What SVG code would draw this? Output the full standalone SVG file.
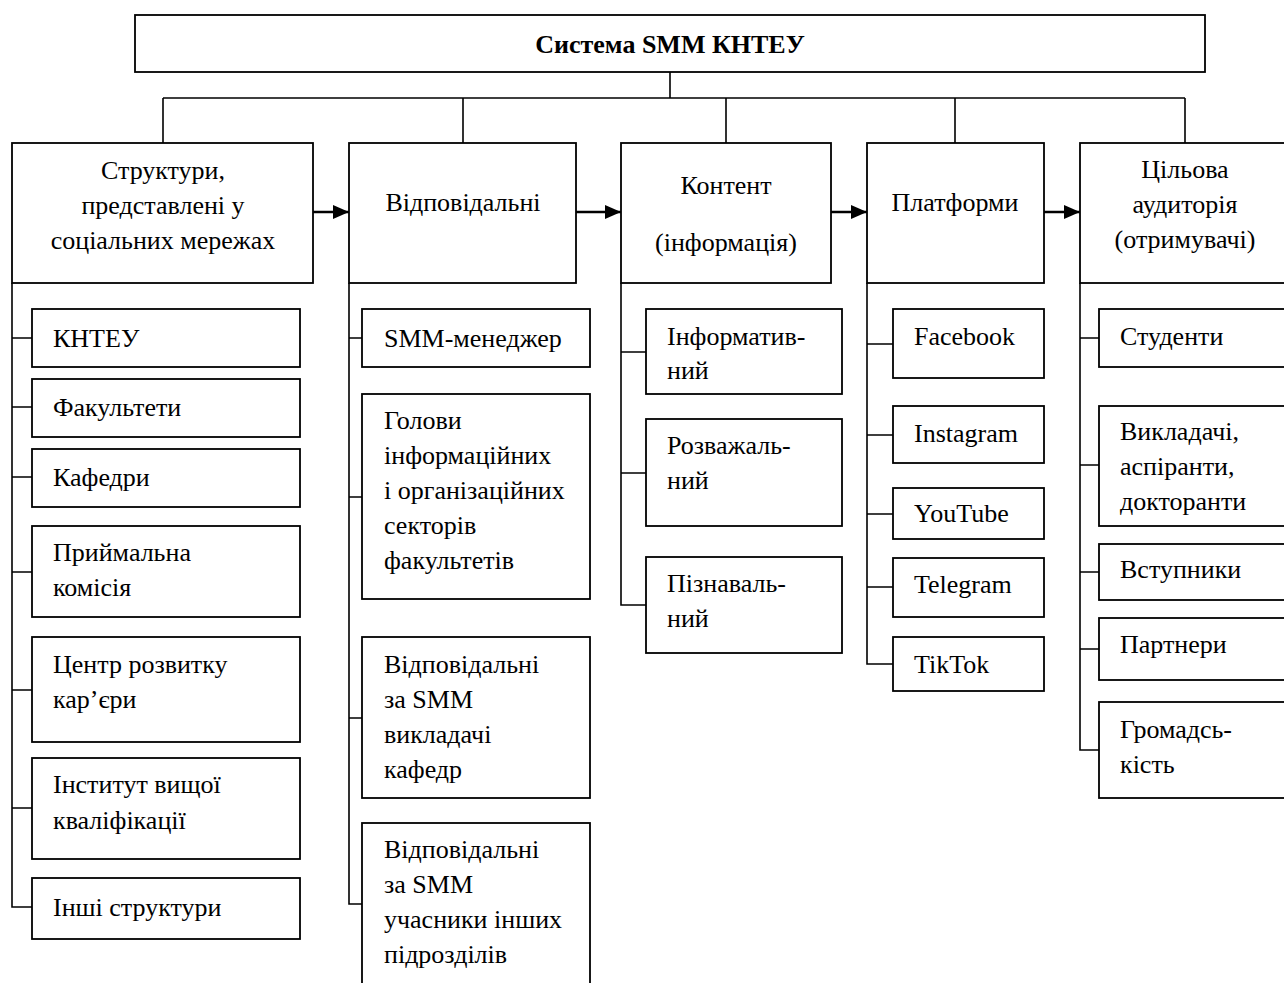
<svg xmlns="http://www.w3.org/2000/svg" width="1284" height="983" viewBox="0 0 1284 983">
<defs>
<style>
.box{fill:#fff;stroke:#000;stroke-width:1.8}
.ln{fill:none;stroke:#000;stroke-width:1.6}
.ar{fill:none;stroke:#000;stroke-width:2.6}
text{font-family:"Liberation Serif","Times New Roman",serif;font-size:26px;fill:#000}
.c{text-anchor:middle}
.t{font-weight:bold;font-size:26px}
</style>
<marker id="ah" viewBox="0 0 16 14" refX="16" refY="7" markerWidth="16" markerHeight="14" markerUnits="userSpaceOnUse" orient="auto">
<path d="M0,0 L16,7 L0,14 Z" fill="#000"/>
</marker>
</defs>
<rect width="1284" height="983" fill="#fff"/>
<g id="connectors">
<path class="ln" d="M670,72 V98 M163,98 H1185 M163,98 V143 M463,98 V143 M726,98 V143 M955,98 V143 M1185,98 V143"/>
<path class="ar" d="M313,212 H349" marker-end="url(#ah)"/>
<path class="ar" d="M576,212 H621" marker-end="url(#ah)"/>
<path class="ar" d="M831,212 H867" marker-end="url(#ah)"/>
<path class="ar" d="M1044,212 H1080" marker-end="url(#ah)"/>
<path class="ln" d="M12,283 V907 H32 M12,338 H32 M12,407 H32 M12,477 H32 M12,572 H32 M12,690 H32 M12,808 H32"/>
<path class="ln" d="M349,283 V904 H362 M349,338 H362 M349,497 H362 M349,718 H362"/>
<path class="ln" d="M621,283 V605 H646 M621,352 H646 M621,473 H646"/>
<path class="ln" d="M867,283 V664 H893 M867,344 H893 M867,435 H893 M867,514 H893 M867,587 H893"/>
<path class="ln" d="M1080,283 V750 H1099 M1080,338 H1099 M1080,465 H1099 M1080,572 H1099 M1080,649 H1099"/>
</g>
<g id="root"><rect class="box" x="135" y="15" width="1070" height="57"/><text class="c t" x="670" y="53">Система SMM КНТЕУ</text></g>
<g id="structures"><rect class="box" x="12" y="143" width="301" height="140"/><text class="c" x="163" y="179">Структури,</text><text class="c" x="163" y="214">представлені у</text><text class="c" x="163" y="249">соціальних мережах</text></g>
<g id="responsible"><rect class="box" x="349" y="143" width="227" height="140"/><text class="c" x="463" y="211">Відповідальні</text></g>
<g id="content"><rect class="box" x="621" y="143" width="210" height="140"/><text class="c" x="726" y="194">Контент</text><text class="c" x="726" y="251">(інформація)</text></g>
<g id="platforms"><rect class="box" x="867" y="143" width="177" height="140"/><text class="c" x="955" y="211">Платформи</text></g>
<g id="audience"><rect class="box" x="1080" y="143" width="212" height="140"/><text class="c" x="1185" y="178">Цільова</text><text class="c" x="1185" y="213">аудиторія</text><text class="c" x="1185" y="248">(отримувачі)</text></g>
<g id="s1"><rect class="box" x="32" y="309" width="268" height="58"/><text x="53" y="347">КНТЕУ</text></g>
<g id="s2"><rect class="box" x="32" y="379" width="268" height="58"/><text x="53" y="416">Факультети</text></g>
<g id="s3"><rect class="box" x="32" y="449" width="268" height="58"/><text x="53" y="486">Кафедри</text></g>
<g id="s4"><rect class="box" x="32" y="526" width="268" height="91"/><text x="53" y="561">Приймальна</text><text x="53" y="596">комісія</text></g>
<g id="s5"><rect class="box" x="32" y="637" width="268" height="105"/><text x="53" y="673">Центр розвитку</text><text x="53" y="708">кар’єри</text></g>
<g id="s6"><rect class="box" x="32" y="758" width="268" height="101"/><text x="53" y="793">Інститут вищої</text><text x="53" y="829">кваліфікації</text></g>
<g id="s7"><rect class="box" x="32" y="878" width="268" height="61"/><text x="53" y="916">Інші структури</text></g>
<g id="r1"><rect class="box" x="362" y="309" width="228" height="58"/><text x="384" y="347">SMM-менеджер</text></g>
<g id="r2"><rect class="box" x="362" y="394" width="228" height="205"/><text x="384" y="429">Голови</text><text x="384" y="464">інформаційних</text><text x="384" y="499">і організаційних</text><text x="384" y="534">секторів</text><text x="384" y="569">факультетів</text></g>
<g id="r3"><rect class="box" x="362" y="637" width="228" height="161"/><text x="384" y="673">Відповідальні</text><text x="384" y="708">за SMM</text><text x="384" y="743">викладачі</text><text x="384" y="778">кафедр</text></g>
<g id="r4"><rect class="box" x="362" y="823" width="228" height="175"/><text x="384" y="858">Відповідальні</text><text x="384" y="893">за SMM</text><text x="384" y="928">учасники інших</text><text x="384" y="963">підрозділів</text></g>
<g id="c1"><rect class="box" x="646" y="309" width="196" height="85"/><text x="667" y="345">Інформатив-</text><text x="667" y="379">ний</text></g>
<g id="c2"><rect class="box" x="646" y="419" width="196" height="107"/><text x="667" y="454">Розважаль-</text><text x="667" y="489">ний</text></g>
<g id="c3"><rect class="box" x="646" y="557" width="196" height="96"/><text x="667" y="592">Пізнаваль-</text><text x="667" y="627">ний</text></g>
<g id="p1"><rect class="box" x="893" y="309" width="151" height="69"/><text x="914" y="345">Facebook</text></g>
<g id="p2"><rect class="box" x="893" y="406" width="151" height="57"/><text x="914" y="442">Instagram</text></g>
<g id="p3"><rect class="box" x="893" y="488" width="151" height="51"/><text x="914" y="522">YouTube</text></g>
<g id="p4"><rect class="box" x="893" y="558" width="151" height="59"/><text x="914" y="593">Telegram</text></g>
<g id="p5"><rect class="box" x="893" y="637" width="151" height="54"/><text x="914" y="673">TikTok</text></g>
<g id="a1"><rect class="box" x="1099" y="309" width="200" height="58"/><text x="1120" y="345">Студенти</text></g>
<g id="a2"><rect class="box" x="1099" y="406" width="200" height="120"/><text x="1120" y="440">Викладачі,</text><text x="1120" y="475">аспіранти,</text><text x="1120" y="510">докторанти</text></g>
<g id="a3"><rect class="box" x="1099" y="544" width="200" height="56"/><text x="1120" y="578">Вступники</text></g>
<g id="a4"><rect class="box" x="1099" y="618" width="200" height="62"/><text x="1120" y="653">Партнери</text></g>
<g id="a5"><rect class="box" x="1099" y="702" width="200" height="96"/><text x="1120" y="738">Громадсь-</text><text x="1120" y="773">кість</text></g>
</svg>
